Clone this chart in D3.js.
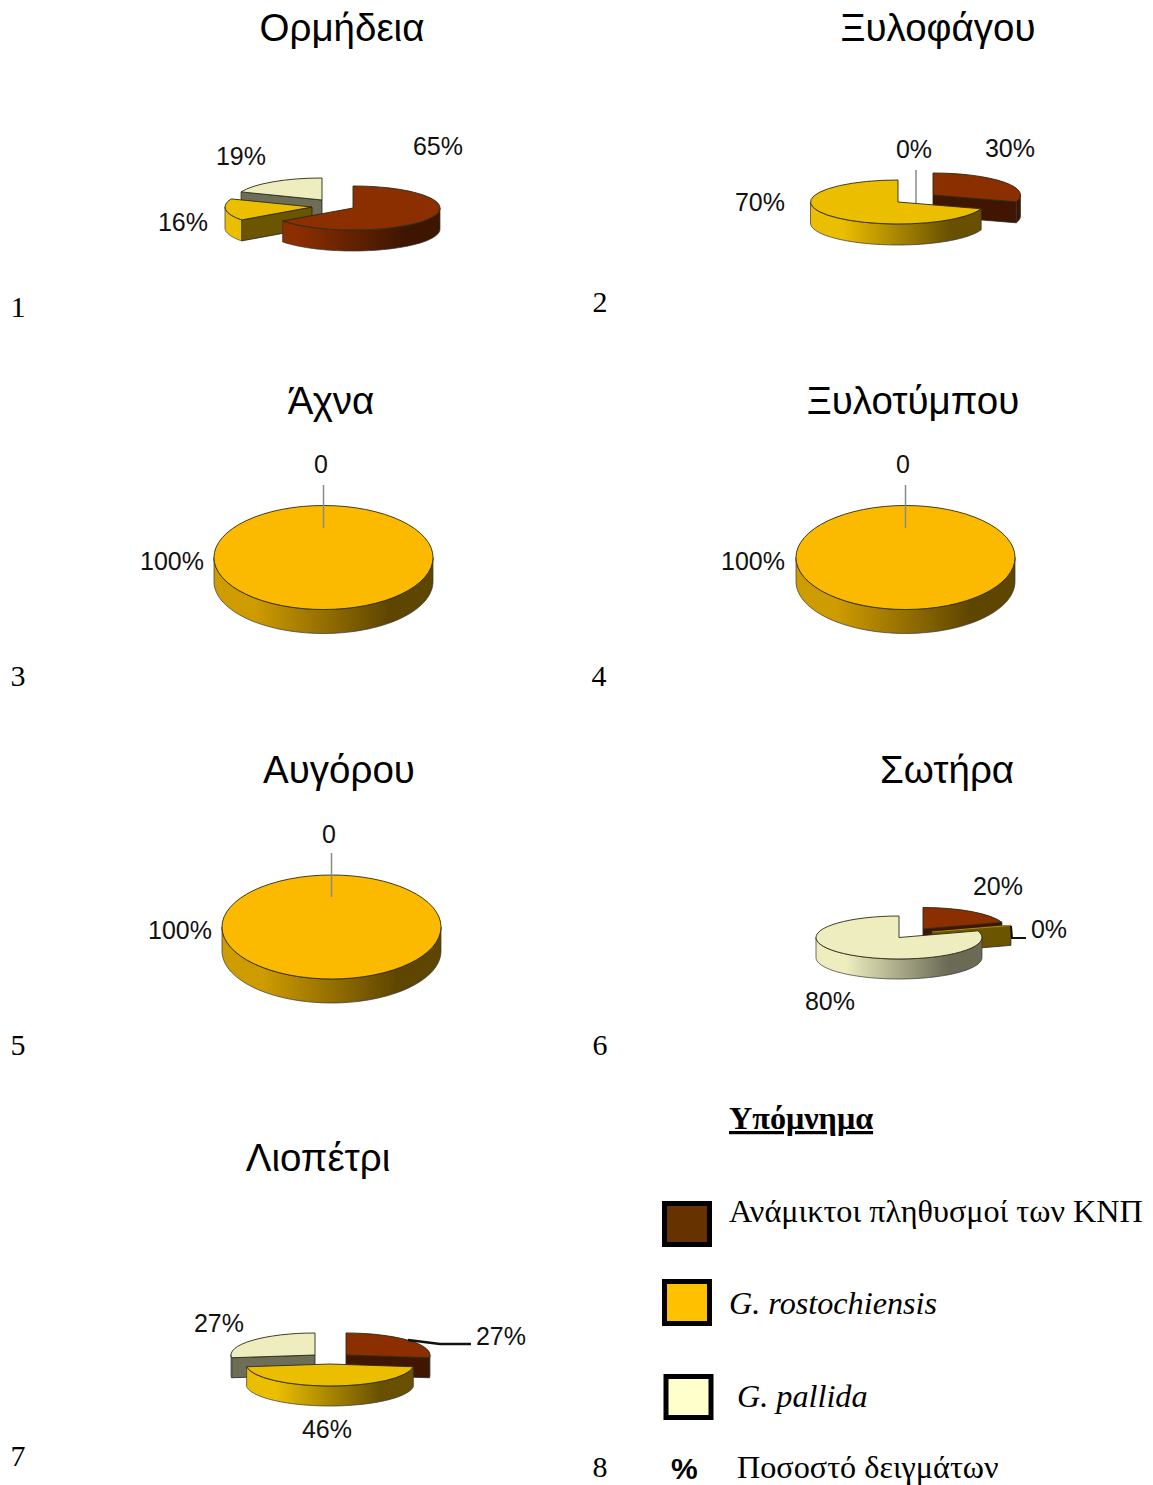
<!DOCTYPE html>
<html lang="el">
<head>
<meta charset="utf-8">
<style>
  html, body { margin: 0; padding: 0; background: #fff; }
  svg { display: block; }
  .title { font: 38.5px "Liberation Sans", Arial, sans-serif; text-anchor: middle; fill: #000; }
  .pct { font: 25px "Liberation Sans", Arial, sans-serif; text-anchor: middle; fill: #111; }
  .num { font: 30px "Liberation Serif", "Times New Roman", serif; text-anchor: middle; fill: #000; }
  .leg { font: 32.2px "Liberation Serif", "Times New Roman", serif; fill: #000; }
</style>
</head>
<body>
<svg id="figure" width="1153" height="1485"></svg>
<script src="https://cdn.jsdelivr.net/npm/d3@7/dist/d3.min.js"></script>
<script>
// Nematode population shares per sampling site, in order: mixed, G. rostochiensis, G. pallida
const siteNames = ["Ορμήδεια", "Ξυλοφάγου", "Άχνα", "Ξυλοτύμπου", "Αυγόρου", "Σωτήρα", "Λιοπέτρι"];
const mixedShare = [65, 30, 0, 0, 0, 20, 27];
const rostochiensisShare = [16, 70, 100, 100, 100, 0, 46];
const pallidaShare = [19, 0, 0, 0, 0, 80, 27];
const panelNumbers = ["1", "2", "3", "4", "5", "6", "7", "8"];
const legendNames = ["Ανάμικτοι πληθυσμοί των ΚΝΠ", "G. rostochiensis", "G. pallida", "Ποσοστό δειγμάτων"];

// Slice styling: top face, shaded wall start and end, flat cut-face colour
const faceColors = ["#8B2E00", "#ECBE00", "#EDEDBF"];
const wallDark = ["#3E1500", "#685000", "#6A6A55"];
const cutColors = ["#401600", "#6B5500", "#6E6E58"];
const legendFills = ["#663300", "#FFC000", "#FFFFCC"];

// Pie placement: one [x, y] apex per slice, plus radii, wall height and stacking order
const pieLayout = [
  { apex: [[353, 208], [312, 207], [322, 200]], rx: 87, ry: 22, depth: 21, order: [2, 1, 0] },
  { apex: [[933, 195], [898, 202], [898, 202]], rx: 87.5, ry: 22, depth: 21, order: [0, 1] },
  { apex: [[323.5, 557.5], [323.5, 557.5], [323.5, 557.5]], rx: 109.5, ry: 52, depth: 24, order: [1], face: "#FBBA00", wallStart: "#CF9C00", wallEnd: "#5E4500" },
  { apex: [[905.5, 557.5], [905.5, 557.5], [905.5, 557.5]], rx: 109.5, ry: 52, depth: 24, order: [1], face: "#FBBA00", wallStart: "#CF9C00", wallEnd: "#5E4500" },
  { apex: [[331.5, 927], [331.5, 927], [331.5, 927]], rx: 109.5, ry: 52, depth: 24, order: [1], face: "#FBBA00", wallStart: "#CF9C00", wallEnd: "#5E4500" },
  { apex: [[923, 929], [932, 932], [899, 937.5]], rx: 83, ry: 21.5, depth: 20, order: [0, 1, 2] },
  { apex: [[346, 1355], [330, 1364], [315, 1355]], rx: 84, ry: 22, depth: 20, order: [0, 2, 1] }
];

const titleAnchors = [[342, 41], [938, 41], [331, 414], [913, 414], [339, 783], [947, 783], [318, 1171]];
const numberAnchors = [[18, 317], [600, 312], [18, 686], [599, 686], [18, 1055], [600, 1055], [18, 1466], [600, 1477]];

// Value labels: site index, slice index, suffix, x, y
const valueLabels = [
  [0, 0, "%", 438, 155], [0, 2, "%", 241, 165], [0, 1, "%", 183, 231],
  [1, 0, "%", 1010, 157], [1, 2, "%", 914, 158], [1, 1, "%", 760, 211],
  [2, 0, "", 321, 473], [2, 1, "%", 172, 570],
  [3, 0, "", 903, 473], [3, 1, "%", 753, 570],
  [4, 0, "", 329, 843], [4, 1, "%", 180, 939],
  [5, 0, "%", 998, 895], [5, 1, "%", 1049, 938], [5, 2, "%", 830, 1010],
  [6, 2, "%", 219, 1332], [6, 0, "%", 501, 1345], [6, 1, "%", 327, 1438]
];

// Leader lines from a label to its slice
const leaders = [
  { pts: [[916, 170], [916, 203]], color: "#8a8a8a", width: 1.5 },
  { pts: [[323.5, 485], [323.5, 528]], color: "#8a8a8a", width: 1.5 },
  { pts: [[905.5, 485], [905.5, 528]], color: "#8a8a8a", width: 1.5 },
  { pts: [[331.5, 853], [331.5, 897]], color: "#8a8a8a", width: 1.5 },
  { pts: [[1011, 926], [1012, 938], [1026, 938]], color: "#111", width: 2 },
  { pts: [[408, 1340], [440, 1344], [471, 1344]], color: "#111", width: 2.5 }
];

const legendRows = [
  { x: 664.5, y: 1203.5, w: 45, h: 41, tx: 729, ty: 1222, italic: false },
  { x: 664.5, y: 1281.5, w: 45, h: 42, tx: 729, ty: 1314, italic: true },
  { x: 666, y: 1376.5, w: 45, h: 41, tx: 737, ty: 1407, italic: true }
];

const svg = d3.select("#figure");
const defs = svg.append("defs");
const pieGen = d3.pie().sort(null).value(d => d);
const HALF_PI = Math.PI / 2;

// Screen position of a point on the ellipse, angle measured clockwise from 12 o'clock
const rimPoint = (c, rx, ry, a) => [c[0] + rx * Math.sin(a), c[1] - ry * Math.cos(a)];

function drawPie(siteIdx) {
  const values = [mixedShare[siteIdx], rostochiensisShare[siteIdx], pallidaShare[siteIdx]];
  const layout = pieLayout[siteIdx];
  const { rx, ry, depth } = layout;
  const arcs = pieGen(values);
  const g = svg.append("g").attr("class", "pie");
  const arcGen = d3.arc().innerRadius(0).outerRadius(rx);
  const cutLine = d3.line().curve(d3.curveLinearClosed);

  layout.order.forEach(i => {
    const slice = arcs[i];
    const c = layout.apex[i];
    const top = layout.face || faceColors[i];
    const left = layout.wallStart || faceColors[i];
    const right = layout.wallEnd || wallDark[i];

    // Radial cut faces, drawn only when they turn toward the viewer
    [[slice.startAngle, -HALF_PI], [slice.endAngle, HALF_PI]].forEach(([a, turn]) => {
      if (-Math.cos(a + turn) > 0.01) {
        const rim = rimPoint(c, rx, ry, a);
        g.append("path")
          .attr("d", cutLine([c, rim, [rim[0], rim[1] + depth], [c[0], c[1] + depth]]))
          .attr("fill", cutColors[i])
          .attr("stroke", "#222").attr("stroke-width", 0.8);
      }
    });

    // Outer wall along the front half of the ellipse, shaded left to right
    const from = Math.max(slice.startAngle, HALF_PI);
    const to = Math.min(slice.endAngle, 3 * HALF_PI);
    if (to > from) {
      const gradId = `wall-${siteIdx}-${i}`;
      const grad = defs.append("linearGradient").attr("id", gradId)
        .attr("gradientUnits", "userSpaceOnUse")
        .attr("x1", c[0] - rx).attr("x2", c[0] + rx).attr("y1", 0).attr("y2", 0);
      grad.append("stop").attr("offset", 0.18).attr("stop-color", left);
      grad.append("stop").attr("offset", 0.8).attr("stop-color", right);
      const steps = d3.range(from, to, (to - from) / 60).concat(to);
      const wall = d3.area()
        .x(a => rimPoint(c, rx, ry, a)[0])
        .y0(a => rimPoint(c, rx, ry, a)[1])
        .y1(a => rimPoint(c, rx, ry, a)[1] + depth);
      g.append("path").attr("d", wall(steps))
        .attr("fill", `url(#${gradId})`)
        .attr("stroke", "#333").attr("stroke-width", 0.7);
    }

    // Top face; a zero share with a visible cut face still shows as a thin sliver
    if (slice.value > 0) {
      g.append("path")
        .attr("transform", `translate(${c[0]},${c[1]}) scale(1,${ry / rx})`)
        .attr("d", arcGen(slice))
        .attr("fill", top)
        .attr("stroke", "#2a2a10").attr("stroke-width", 0.9)
        .attr("vector-effect", "non-scaling-stroke");
    } else if (-Math.cos(slice.endAngle + HALF_PI) > 0.01) {
      const rim = rimPoint(c, rx, ry, slice.endAngle);
      g.append("path").attr("d", d3.line()([c, rim]))
        .attr("stroke", "#A88C00").attr("stroke-width", 1.2).attr("fill", "none");
    }
  });
}

siteNames.forEach((_, i) => drawPie(i));

// Leader lines
const leaderLine = d3.line();
leaders.forEach(l => {
  svg.append("path").attr("d", leaderLine(l.pts))
    .attr("fill", "none").attr("stroke", l.color).attr("stroke-width", l.width);
});

// Site titles and panel numbers
svg.selectAll("text.title").data(siteNames).join("text")
  .attr("class", "title")
  .attr("x", (_, i) => titleAnchors[i][0]).attr("y", (_, i) => titleAnchors[i][1])
  .text(d => d);
svg.selectAll("text.num").data(panelNumbers).join("text")
  .attr("class", "num")
  .attr("x", (_, i) => numberAnchors[i][0]).attr("y", (_, i) => numberAnchors[i][1])
  .text(d => d);

// Value labels read from the same share arrays as the slices
const shareBySlice = [mixedShare, rostochiensisShare, pallidaShare];
svg.selectAll("text.pct").data(valueLabels).join("text")
  .attr("class", "pct")
  .attr("x", d => d[3]).attr("y", d => d[4])
  .text(d => `${shareBySlice[d[1]][d[0]]}${d[2]}`);

// Legend
svg.append("text").attr("class", "leg")
  .attr("x", 729).attr("y", 1129)
  .style("font-weight", "bold")
  .style("text-decoration", "underline")
  .text("Υπόμνημα");
legendRows.forEach((row, i) => {
  svg.append("rect")
    .attr("x", row.x).attr("y", row.y).attr("width", row.w).attr("height", row.h)
    .attr("fill", legendFills[i]).attr("stroke", "#000").attr("stroke-width", 5);
  svg.append("text").attr("class", "leg")
    .attr("x", row.tx).attr("y", row.ty)
    .style("font-style", row.italic ? "italic" : "normal")
    .text(legendNames[i]);
});
svg.append("text")
  .attr("x", 671).attr("y", 1478.5)
  .style("font", "bold 30px 'Liberation Sans', Arial, sans-serif")
  .text("%");
svg.append("text").attr("class", "leg")
  .attr("x", 737).attr("y", 1478)
  .text(legendNames[3]);
</script>
</body>
</html>
